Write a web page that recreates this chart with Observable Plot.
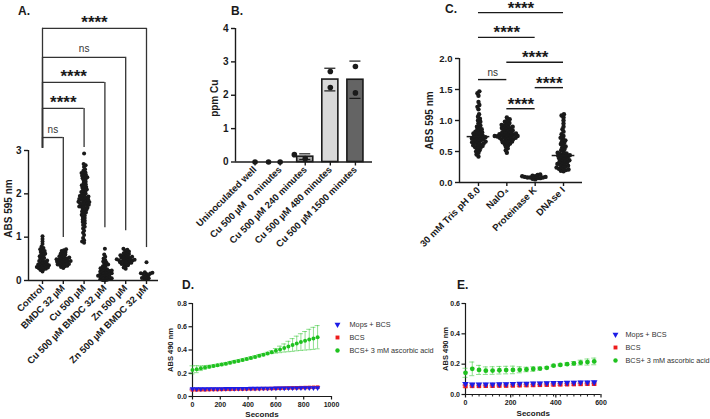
<!DOCTYPE html>
<html>
<head>
<meta charset="utf-8">
<script src="https://cdn.jsdelivr.net/npm/d3@7"></script>
<script src="https://cdn.jsdelivr.net/npm/@observablehq/plot@0.6"></script>
<style>
  body { margin: 0; background: #fff; }
  #fig { position: relative; width: 710px; height: 419px; overflow: hidden; background: #fff;
         font-family: "Liberation Sans", Arial, Helvetica, sans-serif; color: #1a1a1a; }
  .tag { position: absolute; font: bold 12px "Liberation Sans", Arial, sans-serif; line-height: 12px; }
</style>
</head>
<body>
<div id="fig"></div>
<script>
// ---------- Panel A: crystal violet ABS 595 nm per treatment ----------
const groupsA = ["Control", "BMDC 32 µM", "Cu 500 µM", "Cu 500 µM BMDC 32 µM", "Zn 500 µM", "Zn 500 µM BMDC 32 µM"];
const controlA = [0.21,0.24,0.26,0.27,0.28,0.29,0.30,0.31,0.32,0.33,0.34,0.35,0.36,0.37,0.38,0.39,0.40,0.42,0.43,0.45,0.46,0.48,0.50,0.52,0.54,0.56,0.58,0.60,0.62,0.64,0.66,0.68,0.70,0.72,0.75,0.78,0.84,0.90,0.96,1.02];
const bmdcA = [0.29,0.31,0.33,0.34,0.35,0.36,0.37,0.38,0.39,0.40,0.41,0.42,0.43,0.44,0.45,0.45,0.46,0.47,0.48,0.49,0.50,0.51,0.52,0.53,0.55,0.56,0.58,0.60,0.62,0.64,0.66,0.68,0.70,0.72];
const cuA = [0.87,0.90,0.93,0.98,1.05,1.10,1.15,1.20,1.24,1.28,1.32,1.35,1.38,1.41,1.44,1.47,1.50,1.52,1.55,1.57,1.59,1.61,1.63,1.65,1.67,1.68,1.70,1.71,1.73,1.74,1.75,1.77,1.78,1.79,1.80,1.81,1.82,1.84,1.85,1.86,1.87,1.88,1.90,1.91,1.92,1.94,1.95,1.96,1.98,2.00,2.02,2.04,2.06,2.08,2.10,2.12,2.14,2.16,2.18,2.20,2.22,2.25,2.28,2.31,2.34,2.36,2.38,2.40,2.42,2.44,2.46,2.48,2.50,2.53,2.57,2.62,2.66,2.69,2.93];
const cuBmdcA = [0.00,0.01,0.02,0.03,0.04,0.05,0.06,0.07,0.08,0.09,0.10,0.11,0.12,0.13,0.14,0.15,0.16,0.17,0.18,0.19,0.20,0.21,0.22,0.23,0.24,0.25,0.26,0.28,0.30,0.33,0.35,0.37,0.39,0.41,0.44,0.47,0.51,0.55,0.60,0.73];
const znA = [0.27,0.30,0.33,0.35,0.37,0.38,0.39,0.40,0.41,0.42,0.43,0.44,0.45,0.46,0.46,0.47,0.48,0.48,0.49,0.50,0.51,0.52,0.53,0.54,0.55,0.56,0.57,0.58,0.60,0.61,0.63,0.65,0.67,0.69,0.71,0.73];
const znBmdcA = [0.03,0.04,0.05,0.06,0.09,0.10,0.12,0.15,0.15,0.16,0.17,0.18,0.19,0.42];
// comparison brackets: all start at Control
const bracketToA = [1, 2, 3, 4, 5];
const bracketLevelA = [3.30, 3.97, 4.57, 5.15, 5.82];
const bracketRightEndA = [0.99, 3.07, 1.22, 1.15, 0.76];
const bracketLeftEndA = 3.05;
const bracketLabelA = ["ns", "****", "****", "ns", "****"];

// ---------- Panel B: copper content ----------
const conditionsB = ["Uninoculated well", "Cu 500 µM  0 minutes", "Cu 500 µM 240 minutes", "Cu 500 µM 480 minutes", "Cu 500 µM 1500 minutes"];
const replicatesB = [[0], [0, 0], [0.10, 0.22], [2.71, 2.23], [2.86, 2.07]];
const barFillsB = ["#ffffff", "#ffffff", "#a3a3a3", "#d9d9d9", "#646464"];

// ---------- Panel C: treatments of the biofilm matrix ----------
const groupsC = ["30 mM Tris pH 8.0", "NaIO₄", "Proteinase K", "DNAse I"];
const trisC = [0.42,0.45,0.48,0.50,0.52,0.54,0.56,0.57,0.58,0.59,0.60,0.61,0.62,0.63,0.64,0.65,0.65,0.66,0.67,0.68,0.69,0.70,0.70,0.71,0.72,0.73,0.73,0.74,0.75,0.76,0.77,0.78,0.79,0.80,0.81,0.82,0.83,0.85,0.86,0.88,0.90,0.92,0.95,0.98,1.00,1.03,1.06,1.10,1.18,1.22,1.25,1.30,1.40,1.44,1.47];
const naio4C = [0.48,0.52,0.55,0.58,0.60,0.62,0.63,0.64,0.65,0.66,0.67,0.68,0.69,0.70,0.70,0.71,0.72,0.72,0.73,0.73,0.74,0.74,0.75,0.75,0.76,0.76,0.77,0.77,0.78,0.78,0.79,0.80,0.80,0.81,0.82,0.83,0.84,0.85,0.86,0.87,0.88,0.89,0.90,0.91,0.92,0.93,0.95,0.96,0.98,1.00,1.02,1.05];
const protKC = [0.05,0.06,0.07,0.07,0.08,0.08,0.08,0.09,0.09,0.10,0.10,0.11,0.12,0.13];
const dnaseC = [0.18,0.19,0.20,0.21,0.22,0.23,0.24,0.25,0.26,0.27,0.28,0.29,0.30,0.31,0.32,0.33,0.34,0.35,0.36,0.37,0.38,0.39,0.40,0.41,0.42,0.43,0.43,0.44,0.45,0.46,0.47,0.48,0.50,0.52,0.54,0.56,0.58,0.60,0.62,0.64,0.66,0.68,0.70,0.72,0.75,0.78,0.82,0.86,0.90,0.95,1.00,1.05,1.08,1.10];
const bracketFromC = [0, 0, 1, 0, 2, 1];
const bracketToC = [3, 2, 3, 1, 3, 2];
const bracketLevelC = [2.74, 2.34, 1.94, 1.66, 1.53, 1.19];
const bracketLabelC = ["****", "****", "****", "ns", "****", "****"];

// ---------- Panels D and E: ABS 490 nm kinetics ----------
const seriesNames = ["Mops + BCS", "BCS", "BCS+ 3 mM ascorbic acid"];
const seriesColors = ["#1c1ce6", "#ee1c1c", "#1fc21f"];
const timesD = [0,30,60,90,120,150,180,210,240,270,300,330,360,390,420,450,480,510,540,570,600,630,660,690,720,750,780,810,840,870,900];
const mopsD = [0.066,0.066,0.066,0.066,0.067,0.067,0.067,0.067,0.068,0.068,0.068,0.069,0.069,0.069,0.070,0.070,0.070,0.071,0.071,0.071,0.072,0.072,0.072,0.073,0.073,0.073,0.074,0.074,0.074,0.075,0.075];
const mopsDsd = [0.006,0.006,0.006,0.006,0.006,0.006,0.006,0.006,0.006,0.006,0.006,0.006,0.006,0.006,0.006,0.006,0.006,0.006,0.006,0.006,0.006,0.006,0.006,0.006,0.006,0.006,0.006,0.006,0.006,0.006,0.006];
const bcsD = [0.057,0.057,0.058,0.058,0.059,0.060,0.060,0.061,0.062,0.062,0.063,0.064,0.064,0.065,0.066,0.066,0.067,0.068,0.068,0.069,0.070,0.071,0.072,0.073,0.074,0.075,0.076,0.077,0.078,0.079,0.080];
const bcsDsd = [0.007,0.007,0.007,0.007,0.007,0.007,0.007,0.007,0.007,0.007,0.007,0.007,0.007,0.007,0.007,0.007,0.007,0.007,0.007,0.007,0.007,0.007,0.007,0.007,0.007,0.007,0.007,0.007,0.007,0.007,0.007];
const ascD = [0.229,0.235,0.243,0.250,0.256,0.262,0.268,0.275,0.282,0.290,0.298,0.306,0.314,0.322,0.331,0.340,0.350,0.360,0.370,0.381,0.393,0.405,0.417,0.430,0.443,0.456,0.468,0.479,0.490,0.500,0.510];
const ascDsd = [0.035,0.030,0.020,0.015,0.012,0.010,0.010,0.010,0.010,0.010,0.010,0.010,0.010,0.010,0.010,0.010,0.010,0.010,0.010,0.012,0.020,0.028,0.035,0.045,0.055,0.063,0.072,0.080,0.088,0.095,0.100];
const timesE = [0,30,60,90,120,150,180,210,240,270,300,330,360,390,420,450,480,510,540,570];
const mopsE = [0.070,0.066,0.066,0.067,0.067,0.068,0.069,0.070,0.071,0.072,0.073,0.074,0.075,0.076,0.077,0.078,0.079,0.080,0.080,0.081];
const mopsEsd = [0.008,0.008,0.008,0.008,0.008,0.008,0.008,0.008,0.008,0.008,0.008,0.008,0.008,0.008,0.008,0.008,0.008,0.008,0.008,0.008];
const bcsE = [0.055,0.056,0.056,0.057,0.057,0.058,0.058,0.059,0.060,0.061,0.062,0.063,0.064,0.065,0.066,0.067,0.068,0.069,0.070,0.070];
const bcsEsd = [0.007,0.007,0.007,0.007,0.007,0.007,0.007,0.007,0.007,0.007,0.007,0.007,0.007,0.007,0.007,0.007,0.007,0.007,0.007,0.007];
const ascE = [0.143,0.169,0.162,0.157,0.158,0.160,0.161,0.162,0.163,0.165,0.168,0.171,0.176,0.190,0.195,0.200,0.205,0.210,0.214,0.218];
const ascEsd = [0.030,0.045,0.030,0.025,0.025,0.025,0.025,0.025,0.020,0.015,0.015,0.010,0.006,0.005,0.006,0.008,0.012,0.016,0.020,0.022];

// ---------- shared helpers ----------
const FONT = "'Liberation Sans', Arial, Helvetica, sans-serif";
const INK = "#1a1a1a";
const baseStyle = {background: "transparent", overflow: "visible", fontFamily: FONT, color: INK};
const fig = document.getElementById("fig");
const intFormat = d3.format("d");
const oneDecimal = d3.format(".1f");

function place(node, left, top) {
  node.style.position = "absolute";
  node.style.left = left + "px";
  node.style.top = top + "px";
  node.style.maxWidth = "none";
  fig.appendChild(node);
}
function tag(text, left, top) {
  const d = document.createElement("div");
  d.className = "tag";
  d.textContent = text;
  d.style.left = left + "px";
  d.style.top = top + "px";
  fig.appendChild(d);
}
// Linear extent that puts category i exactly on the centre of band i of a band scale
function bandExtent(n, inner, outer, align) {
  const half = (1 - inner) / 2;
  return [-(2 * outer * align + half), n - 1 + 2 * outer * (1 - align) + half];
}
// Vertical axis title, centred on the frame's left edge and shifted by (dx, dy)
function yTitle(text, dx, dy, fontSize) {
  return Plot.text([text], {text: d => d, frameAnchor: "left", textAnchor: "middle", lineAnchor: "middle", rotate: -90, dx, dy, fontSize, fontWeight: "bold"});
}
// Downward-pointing triangle symbol
const triangleDown = {
  draw(ctx, size) {
    const a = Math.sqrt(size * 4 / Math.sqrt(3));
    const h = a * Math.sqrt(3) / 2;
    ctx.moveTo(0, 2 * h / 3);
    ctx.lineTo(a / 2, -h / 3);
    ctx.lineTo(-a / 2, -h / 3);
    ctx.closePath();
  }
};
const symbolScale = {domain: seriesNames, range: [triangleDown, "square", "circle"]};
const colorScale = {domain: seriesNames, range: seriesColors};

// ======================= Panel A =======================
{
  const dims = {width: 175, height: 380, marginLeft: 28, marginRight: 17, marginTop: 150, marginBottom: 100};
  const band = {inner: 0.1, outer: 0.175, align: 0.637};
  const valuesA = [controlA, bmdcA, cuA, cuBmdcA, znA, znBmdcA];
  const rows = groupsA.flatMap((g, i) => valuesA[i].map(v => ({group: g, value: v})));
  const dots = Plot.plot({
    ...dims, style: baseStyle,
    fx: {domain: groupsA, paddingInner: band.inner, paddingOuter: band.outer, align: band.align, round: false, axis: null},
    y: {domain: [0, 3], axis: null},
    marks: [
      Plot.dot(rows, Plot.dodgeX({anchor: "middle", padding: -1.6}, {fx: "group", y: "value", r: 2, fill: INK}))
    ]
  });
  const [lo, hi] = bandExtent(groupsA.length, band.inner, band.outer, band.align);
  const brackets = bracketToA.map((to, i) => ({from: 0, to, level: bracketLevelA[i], right: bracketRightEndA[i], left: bracketLeftEndA, label: bracketLabelA[i]}));
  const stars = brackets.filter(d => d.label !== "ns");
  const ns = brackets.filter(d => d.label === "ns");
  const axes = Plot.plot({
    ...dims, style: baseStyle,
    x: {domain: [lo, hi]},
    y: {domain: [0, 3]},
    marks: [
      Plot.ruleY([0], {stroke: INK, strokeWidth: 1.4}),
      Plot.ruleX([lo], {y1: 0, y2: 3, stroke: INK, strokeWidth: 1.4}),
      Plot.axisY({ticks: [0, 1, 2, 3], tickFormat: intFormat, tickSize: 4, tickPadding: 3, strokeWidth: 1.4, fontSize: 10, fontWeight: "bold", label: null}),
      Plot.axisX({ticks: d3.range(groupsA.length), tickFormat: i => groupsA[i], tickRotate: -45, tickSize: 4, tickPadding: 2, strokeWidth: 1.4, fontSize: 9.5, fontWeight: "bold", label: null}),
      yTitle("ABS 595 nm", -20, -7, 10),
      Plot.ruleY(brackets, {x1: "from", x2: "to", y: "level", stroke: "#333", strokeWidth: 1.3}),
      Plot.ruleX(brackets, {x: "from", y1: "left", y2: "level", stroke: "#333", strokeWidth: 1.3}),
      Plot.ruleX(brackets, {x: "to", y1: "right", y2: "level", stroke: "#333", strokeWidth: 1.3}),
      Plot.text(stars, {x: d => (d.from + d.to) / 2, y: "level", text: "label", lineAnchor: "bottom", dy: 0, fontSize: 17, fontWeight: "bold"}),
      Plot.text(ns, {x: d => (d.from + d.to) / 2, y: "level", text: "label", lineAnchor: "bottom", dy: -5, fontSize: 10, fill: "#333"})
    ]
  });
  place(dots, 0, 0);
  place(axes, 0, 0);
  tag("A.", 18, 5);
}

// ======================= Panel B =======================
{
  const dims = {width: 192, height: 260, marginLeft: 45, marginRight: 10, marginTop: 28, marginBottom: 98.5};
  const band = {inner: 0.36, outer: 0.41, align: 0.56};
  const rows = conditionsB.flatMap((c, i) => replicatesB[i].map(v => ({cond: c, value: v})));
  const stats = conditionsB.map((c, i) => ({cond: c, mean: d3.mean(replicatesB[i]), sd: d3.deviation(replicatesB[i])}));
  const bars = stats.filter(d => d.mean > 0);
  const errs = stats.filter(d => d.sd > 0);
  const dots = Plot.plot({
    ...dims, style: baseStyle,
    fx: {domain: conditionsB, paddingInner: band.inner, paddingOuter: band.outer, align: band.align, round: false, axis: null},
    y: {domain: [0, 4], axis: null},
    color: {domain: conditionsB, range: barFillsB},
    marks: [
      Plot.barY(bars, {fx: "cond", y: "mean", fill: "cond", stroke: INK, strokeWidth: 1.6}),
      Plot.ruleX(errs, {fx: "cond", y1: d => d.mean - d.sd, y2: d => d.mean + d.sd, stroke: INK, strokeWidth: 1.2}),
      Plot.tickY(errs, {fx: "cond", y: d => d.mean + d.sd, insetLeft: 2.5, insetRight: 2.5, stroke: INK, strokeWidth: 1.2}),
      Plot.tickY(errs, {fx: "cond", y: d => d.mean - d.sd, insetLeft: 2.5, insetRight: 2.5, stroke: INK, strokeWidth: 1.2}),
      Plot.dot(rows, Plot.dodgeX({anchor: "middle", padding: 6}, {fx: "cond", y: "value", r: 2.8, fill: INK}))
    ]
  });
  const [lo, hi] = bandExtent(conditionsB.length, band.inner, band.outer, band.align);
  const axes = Plot.plot({
    ...dims, style: baseStyle,
    x: {domain: [lo, hi]},
    y: {domain: [0, 4]},
    marks: [
      Plot.ruleY([0], {stroke: INK, strokeWidth: 1.4}),
      Plot.ruleX([lo], {stroke: INK, strokeWidth: 1.4}),
      Plot.axisY({ticks: [0, 1, 2, 3, 4], tickFormat: intFormat, tickSize: 4, tickPadding: 3, strokeWidth: 1.4, fontSize: 10, fontWeight: "bold", label: null}),
      Plot.axisX({ticks: d3.range(conditionsB.length), tickFormat: i => conditionsB[i], tickRotate: -45, tickSize: 4, tickPadding: 2, strokeWidth: 1.4, fontSize: 9.5, fontWeight: "bold", label: null}),
      yTitle("ppm Cu", -21, 3, 10)
    ]
  });
  place(dots, 190, 0);
  place(axes, 190, 0);
  tag("B.", 231, 5);
}

// ======================= Panel C =======================
{
  const dims = {width: 182, height: 250, marginLeft: 39, marginRight: 20, marginTop: 58, marginBottom: 68};
  const band = {inner: 0.2, outer: 0.27, align: 0.5};
  const valuesC = [trisC, naio4C, protKC, dnaseC];
  const rows = groupsC.flatMap((g, i) => valuesC[i].map(v => ({group: g, value: v})));
  const medians = groupsC.map((g, i) => ({group: g, median: d3.median(valuesC[i])}));
  const dots = Plot.plot({
    ...dims, style: baseStyle,
    fx: {domain: groupsC, paddingInner: band.inner, paddingOuter: band.outer, align: band.align, round: false, axis: null},
    y: {domain: [0, 2], axis: null},
    marks: [
      Plot.dot(rows, Plot.dodgeX({anchor: "middle", padding: -1.7}, {fx: "group", y: "value", r: 2.2, fill: INK})),
      Plot.tickY(medians, {fx: "group", y: "median", stroke: INK, strokeWidth: 1.5})
    ]
  });
  const [lo, hi] = bandExtent(groupsC.length, band.inner, band.outer, band.align);
  const brackets = bracketFromC.map((from, i) => ({from, to: bracketToC[i], level: bracketLevelC[i], label: bracketLabelC[i]}));
  const axes = Plot.plot({
    ...dims, style: baseStyle,
    x: {domain: [lo, hi]},
    y: {domain: [0, 2]},
    marks: [
      Plot.ruleY([0], {stroke: INK, strokeWidth: 1.4}),
      Plot.ruleX([lo], {stroke: INK, strokeWidth: 1.4}),
      Plot.axisY({ticks: [0, 0.5, 1, 1.5, 2], tickFormat: oneDecimal, tickSize: 4, tickPadding: 3, strokeWidth: 1.4, fontSize: 9.5, fontWeight: "bold", label: null}),
      Plot.axisX({ticks: d3.range(groupsC.length), tickFormat: i => groupsC[i], tickRotate: -45, tickSize: 4, tickPadding: 2, strokeWidth: 1.4, fontSize: 9.5, fontWeight: "bold", label: null}),
      yTitle("ABS 595 nm", -30, 0, 10),
      Plot.ruleY(brackets, {x1: "from", x2: "to", y: "level", stroke: INK, strokeWidth: 1.4}),
      Plot.text(brackets.filter(d => d.label !== "ns"), {x: d => (d.from + d.to) / 2, y: "level", text: "label", lineAnchor: "bottom", dy: 1, fontSize: 17, fontWeight: "bold"}),
      Plot.text(brackets.filter(d => d.label === "ns"), {x: d => (d.from + d.to) / 2, y: "level", text: "label", lineAnchor: "bottom", dy: -4, fontSize: 10, fill: "#333"})
    ]
  });
  place(dots, 420, 0);
  place(axes, 420, 0);
  tag("C.", 445, 3);
}

// ======================= Panels D and E =======================
function kineticRows(times, means, sds) {
  // draw order: ascorbic first, then BCS, then Mops + BCS on top
  return [2, 1, 0].flatMap(k => times.map((t, i) => ({series: seriesNames[k], t, mean: means[k][i], sd: sds[k][i]})));
}
function kineticPlot(rows, {width, height, margins, xDomain, xTicks, minorTicks, yDomain, yTicks, r, labelDx, secondsDy}) {
  const lo = d => d.mean - d.sd, hi = d => d.mean + d.sd;
  const errStyle = {stroke: "series", strokeOpacity: 0.5, strokeWidth: 1};
  return Plot.plot({
    width, height, ...margins, style: baseStyle,
    x: {domain: xDomain}, y: {domain: yDomain},
    symbol: symbolScale, color: colorScale,
    marks: [
      Plot.ruleY([0], {stroke: INK, strokeWidth: 1.2}),
      Plot.ruleX([0], {stroke: INK, strokeWidth: 1.2}),
      minorTicks ? Plot.axisX({ticks: minorTicks, tickFormat: () => "", tickSize: 2.5, strokeWidth: 1, label: null}) : null,
      Plot.axisX({ticks: xTicks, tickFormat: intFormat, tickSize: 3.5, tickPadding: 2.5, strokeWidth: 1.2, fontSize: 7, fontWeight: "bold", label: null}),
      Plot.axisY({ticks: yTicks, tickFormat: oneDecimal, tickSize: 3.5, tickPadding: 2, strokeWidth: 1.2, fontSize: 7, fontWeight: "bold", label: null}),
      Plot.text(["Seconds"], {text: d => d, frameAnchor: "bottom", lineAnchor: "middle", dy: secondsDy, fontSize: 8, fontWeight: "bold"}),
      yTitle("ABS 490 nm", labelDx, 0, 7.5),
      Plot.ruleX(rows, {x: "t", y1: lo, y2: hi, ...errStyle}),
      Plot.ruleY(rows, {x1: "t", x2: "t", y: hi, insetLeft: -2.5, insetRight: -2.5, ...errStyle}),
      Plot.ruleY(rows, {x1: "t", x2: "t", y: lo, insetLeft: -2.5, insetRight: -2.5, ...errStyle}),
      Plot.dot(rows, {x: "t", y: "mean", symbol: "series", fill: "series", r})
    ]
  });
}
function legendPlot(textDx) {
  return Plot.plot({
    width: 130, height: 39, marginLeft: 6, marginRight: 0, marginTop: 0, marginBottom: 0,
    style: baseStyle,
    x: {domain: [0, 1], axis: null},
    y: {type: "point", domain: seriesNames, padding: 0.5, axis: null},
    symbol: symbolScale, color: colorScale,
    marks: [
      Plot.dot(seriesNames, {x: 0, y: d => d, symbol: d => d, fill: d => d, r: 2.2}),
      Plot.text(seriesNames, {x: 0, y: d => d, text: d => d, dx: textDx, textAnchor: "start", fontSize: 7.3, fill: "#333"})
    ]
  });
}
{
  const rows = kineticRows(timesD, [mopsD, bcsD, ascD], [mopsDsd, bcsDsd, ascDsd]);
  const plot = kineticPlot(rows, {
    width: 180, height: 149, margins: {marginLeft: 32, marginRight: 9, marginTop: 33, marginBottom: 23},
    xDomain: [0, 1000], xTicks: [0, 200, 400, 600, 800, 1000],
    yDomain: [0, 0.8], yTicks: [0, 0.2, 0.4, 0.6, 0.8], r: 2, labelDx: -22, secondsDy: 17.5
  });
  place(plot, 160, 270);
  place(legendPlot(12), 331, 316.5);
  tag("D.", 182, 279);
}
{
  const rows = kineticRows(timesE, [mopsE, bcsE, ascE], [mopsEsd, bcsEsd, ascEsd]);
  const plot = kineticPlot(rows, {
    width: 180, height: 149, margins: {marginLeft: 35, marginRight: 9.5, marginTop: 33, marginBottom: 25},
    xDomain: [0, 600], xTicks: [0, 200, 400, 600], minorTicks: timesE,
    yDomain: [0, 0.6], yTicks: [0, 0.2, 0.4, 0.6], r: 2.4, labelDx: -20, secondsDy: 19
  });
  place(plot, 430, 270);
  place(legendPlot(10), 609, 326.5);
  tag("E.", 457, 279);
}
</script>
</body>
</html>
